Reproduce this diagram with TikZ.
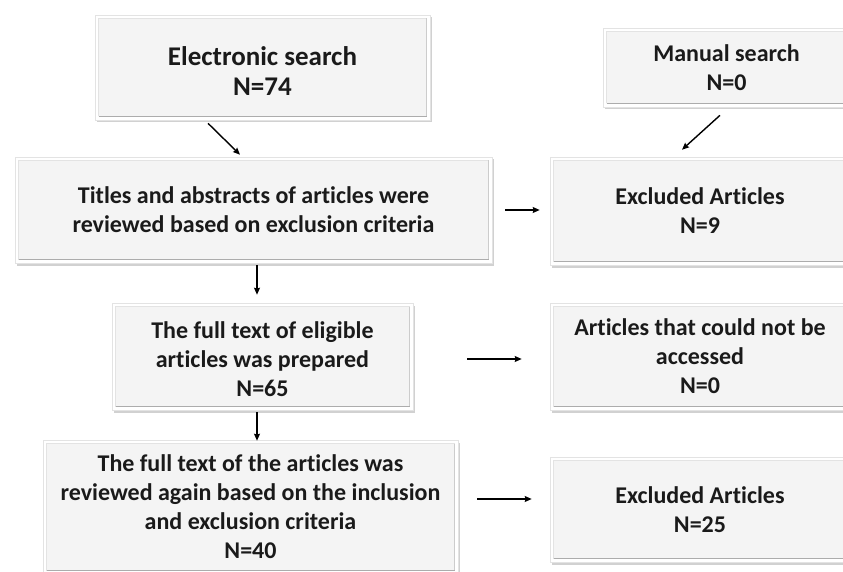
\documentclass[tikz,border=0pt]{standalone}
\usepackage{fontspec}
\setmainfont{Carlito}[Ligatures=NoCommon]
\usetikzlibrary{arrows.meta,shadows,calc}
\definecolor{facegray}{HTML}{F4F4F4}
\definecolor{txt}{HTML}{1A1A1A}
\tikzset{
  flowbox/.style={draw=gray!22, line width=0.6pt, fill=white, inner sep=0pt,
    align=center, text=txt, font=\bfseries\fontsize{24}{29}\selectfont,
    drop shadow={shadow xshift=1.5pt, shadow yshift=-2.5pt, opacity=0.18, fill=black},
    path picture={
      \fill[facegray] ([shift={(3.5pt,3.5pt)}]path picture bounding box.south west)
        rectangle ([shift={(-3.5pt,-3.5pt)}]path picture bounding box.north east);
      \draw[gray!22, line width=0.9pt] ([shift={(3.5pt,3.5pt)}]path picture bounding box.south west)
        -- ([shift={(3.5pt,-3.5pt)}]path picture bounding box.north west)
        -- ([shift={(-3.5pt,-3.5pt)}]path picture bounding box.north east);
      \draw[gray!40, line width=1pt] ([shift={(-3.5pt,-3.5pt)}]path picture bounding box.north east)
        -- ([shift={(-3.5pt,3.5pt)}]path picture bounding box.south east);
      \draw[gray!65, line width=1.8pt] ([shift={(3.5pt,3.5pt)}]path picture bounding box.south west)
        -- ([shift={(-3.5pt,3.5pt)}]path picture bounding box.south east);
    }},
  flowarrow/.style={-{Stealth[length=7pt,width=6pt,inset=1pt]}, line width=1.4pt, black}
}
\begin{document}
\begin{tikzpicture}[x=1pt,y=1pt]
\clip (0,0) rectangle (843,-572);
\fill[white] (0,0) rectangle (843,-572);

\node[flowbox, minimum width=335pt, minimum height=105pt, font=\bfseries\fontsize{27}{30}\selectfont]
  (elec) at (262.5,-67.5) {\rule{0pt}{26pt}Electronic search\\N=74};
\node[flowbox, minimum width=477pt, minimum height=106pt]
  (titles) at (253.5,-210) {Titles and abstracts of articles were\\reviewed based on exclusion criteria};
\node[flowbox, minimum width=301pt, minimum height=107pt]
  (full) at (262.5,-356.5) {\rule{0pt}{22pt}The full text of eligible\\articles was prepared\\N=65};
\node[flowbox, minimum width=415pt, minimum height=134pt]
  (review) at (250.5,-507) {The full text of the articles was\\reviewed again based on the inclusion\\and exclusion criteria\\N=40};

\node[flowbox, minimum width=247pt, minimum height=79pt]
  (manual) at (726.5,-67.5) {Manual search\\N=0};
\node[flowbox, minimum width=300pt, minimum height=108pt]
  (excl1) at (700,-211) {Excluded Articles\\N=9};
\node[flowbox, minimum width=300pt, minimum height=107pt]
  (noacc) at (700,-356.5) {Articles that could not be\\accessed\\N=0};
\node[flowbox, minimum width=300pt, minimum height=105pt]
  (excl2) at (700,-509.5) {Excluded Articles\\N=25};

\draw[flowarrow] ($(elec.south)+(-54.5,-3)$) -- ($(titles.north)+(-13.5,2)$);
\draw[flowarrow] ($(manual.south)+(-6.5,-8)$) -- ($(excl1.north)+(-18,7)$);
\draw[flowarrow] ($(titles.east)+(13,0)$) -- ($(excl1.west)+(-10,1)$);
\draw[flowarrow] ($(titles.south)+(3.5,-2)$) -- ($(full.north)+(-5.5,8)$);
\draw[flowarrow] ($(full.east)+(54,-2.5)$) -- ($(noacc.west)+(-28,-2.5)$);
\draw[flowarrow] ($(full.south)+(-5.5,-2)$) -- ($(review.north)+(6.5,-1)$);
\draw[flowarrow] ($(review.east)+(19,8)$) -- ($(excl2.west)+(-18,10.5)$);
\end{tikzpicture}
\end{document}
